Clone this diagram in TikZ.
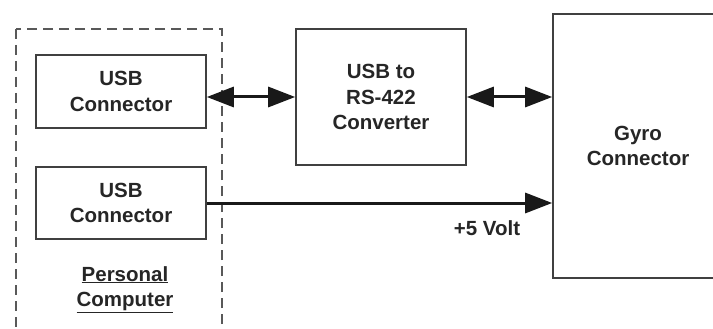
\documentclass[tikz,border=0pt]{standalone}
\usepackage{fontspec}
\setmainfont{Liberation Sans}
\usetikzlibrary{arrows.meta}
\begin{document}
\begin{tikzpicture}[x=1pt,y=-1pt,
  lbl/.style={font=\fontsize{20.5}{25.5}\selectfont\bfseries, text=black!85, align=center},
  box/.style={draw=black!75, line width=1.6pt, fill=white, lbl, inner sep=0pt},
  link/.style={line width=3pt, black!90},
  tip/.style={-{Triangle[length=27pt,width=20pt]}},
  dbl/.style={{Triangle[length=27pt,width=20pt]}-{Triangle[length=27pt,width=20pt]}}]
\clip (0,0) rectangle (713,329);
\fill[white] (0,0) rectangle (713,329);
% dashed Personal Computer frame
\draw[black!65, line width=1.8pt, dash pattern=on 10pt off 6pt] (16,29) rectangle (222,329.5);
\node[box, minimum width=170pt, minimum height=73pt] (usb1) at (121,91.5) {USB\\Connector};
\node[box, minimum width=170pt, minimum height=72pt] (usb2) at (121,203) {USB\\Connector};
\node[box, minimum width=170pt, minimum height=136pt] (conv) at (381,97) {USB to\\RS-422\\Converter};
\node[box, minimum width=170pt, minimum height=264pt] (gyro) at (638,146) {Gyro\\Connector};
\node[lbl] (pc) at (125,289.5) {\underline{Personal}\\\underline{Computer}};
\draw[link, dbl] (conv.west -| usb1.east) -- (conv.west);
\draw[link, dbl] (conv.east) -- (conv.east -| gyro.west);
\draw[link, tip] (usb2.east) -- (usb2.east -| gyro.west);
\node[lbl] (volt) at (487,228) {+5 Volt};
\end{tikzpicture}
\end{document}
